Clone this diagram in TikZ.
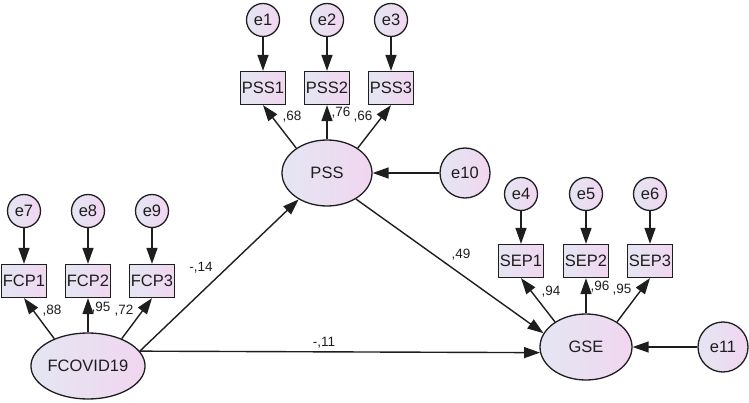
\documentclass[tikz,border=0pt]{standalone}
\usepackage{fontspec}
\setmainfont{Liberation Sans}
\usetikzlibrary{arrows.meta,shapes.geometric}
\definecolor{fillA}{RGB}{228,230,242}
\definecolor{fillB}{RGB}{241,214,240}
\definecolor{ink}{RGB}{30,30,30}
\begin{document}
\begin{tikzpicture}[x=1pt,y=-1pt,
  base/.style={draw=ink, line width=1.3pt, left color=fillA, right color=fillB, text=ink, font=\fontsize{16.5}{18}\selectfont, inner sep=0pt},
  latent/.style={base, ellipse, minimum width=90pt, minimum height=66pt},
  obs/.style={base, rectangle, minimum width=45pt, minimum height=33pt},
  err/.style={base, circle, minimum size=33pt},
  bigerr/.style={base, circle, minimum size=50pt},
  arr/.style={draw=ink, line width=1.4pt, -{Triangle[length=16pt,width=11pt]}},
  coef/.style={font=\fontsize{13.5}{15}\selectfont, inner sep=0pt, text=ink}]
\useasboundingbox (0,0) rectangle (749,403);

% PSS block
\node[latent] (PSS) at (327,173) {PSS};
\node[bigerr] (e10) at (465,173) {e10};
\node[obs] (PSS1) at (263,88) {PSS1};
\node[obs] (PSS2) at (327,88) {PSS2};
\node[obs] (PSS3) at (391,88) {PSS3};
\node[err] (e1) at (263,20) {e1};
\node[err] (e2) at (327,20) {e2};
\node[err] (e3) at (391,20) {e3};

% FCOVID19 block
\node[latent] (FC) at (88,366) {FCOVID19};
\node[obs] (FCP1) at (24,281) {FCP1};
\node[obs] (FCP2) at (88,281) {FCP2};
\node[obs] (FCP3) at (152,281) {FCP3};
\node[err] (e7) at (24,211) {e7};
\node[err] (e8) at (88,211) {e8};
\node[err] (e9) at (152,211) {e9};

% GSE block
\node[latent, minimum width=92pt] (GSE) at (586,347) {GSE};
\node[bigerr] (e11) at (723,347) {e11};
\node[obs] (SEP1) at (521,261) {SEP1};
\node[obs] (SEP2) at (586,261) {SEP2};
\node[obs] (SEP3) at (650,261) {SEP3};
\node[err] (e4) at (521,194) {e4};
\node[err] (e5) at (586,194) {e5};
\node[err] (e6) at (650,194) {e6};

% error arrows
\foreach \e/\b in {e1/PSS1,e2/PSS2,e3/PSS3,e7/FCP1,e8/FCP2,e9/FCP3,e4/SEP1,e5/SEP2,e6/SEP3}
  \draw[arr] (\e) -- (\b);
\draw[arr] (e10) -- (PSS);
\draw[arr] (e11) -- (GSE);

% loadings
\foreach \l/\a/\b/\c in {PSS/PSS1/PSS2/PSS3, FC/FCP1/FCP2/FCP3, GSE/SEP1/SEP2/SEP3}{
  \draw[arr] (\l.141) -- (\a.south);
  \draw[arr] (\l.north) -- (\b.south);
  \draw[arr] (\l.39) -- (\c.south);
}

% structural paths
\draw[arr] (FC.16) -- (PSS.223);
\draw[arr] (FC.16) -- (GSE.187);
\draw[arr] (PSS.318) -- (GSE.162);

% coefficients
\node[coef] (c1) at (292,117) {,68};
\node[coef] (c2) at (341,113) {,76};
\node[coef] (c3) at (363,117) {,66};
\node[coef] (c4) at (52,311) {,88};
\node[coef] (c5) at (101,308) {,95};
\node[coef] (c6) at (124,311) {,72};
\node[coef] (c7) at (551,292) {,94};
\node[coef] (c8) at (600,287) {,96};
\node[coef] (c9) at (622,290) {,95};
\node[coef] (c10) at (461,255) {,49};
\node[coef] (c11) at (201,268) {-,14};
\node[coef] (c12) at (324,343) {-,11};
\end{tikzpicture}
\end{document}
